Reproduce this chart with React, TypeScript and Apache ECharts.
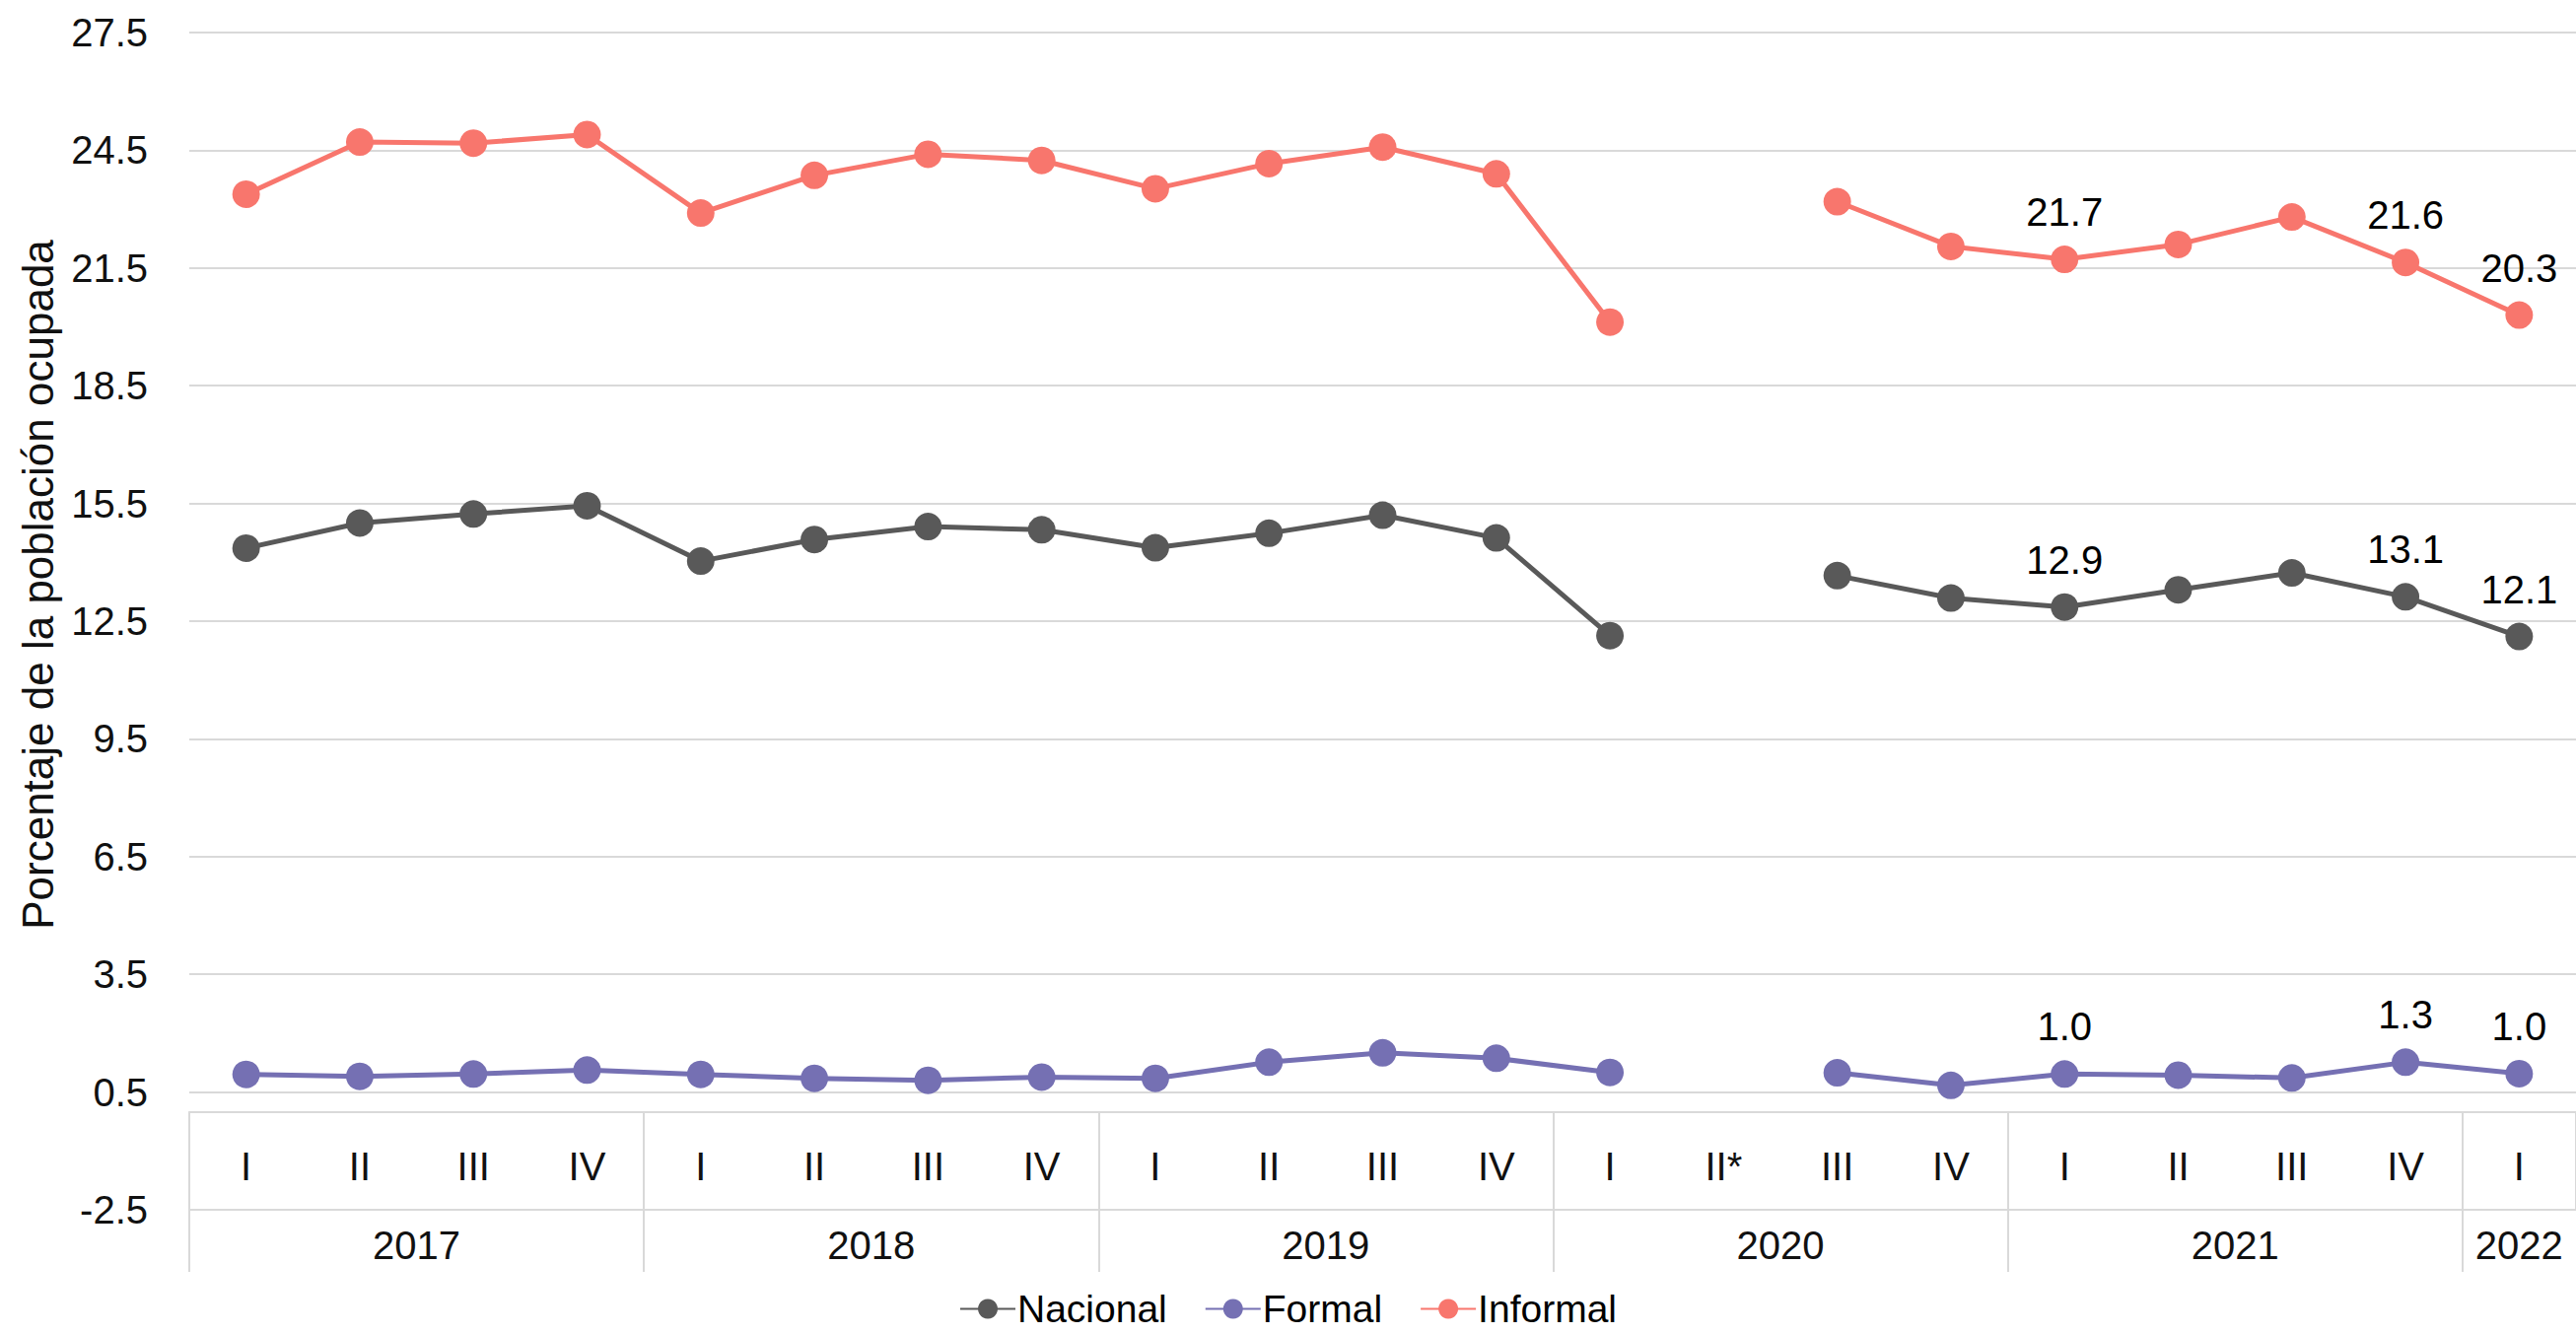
import React, { useEffect, useRef } from "react";
import * as echarts from "echarts";

const quarters = ["I", "II", "III", "IV", "I", "II", "III", "IV", "I", "II", "III", "IV", "I", "II*", "III", "IV", "I", "II", "III", "IV", "I"];
const years = ["2017", "2018", "2019", "2020", "2021", "2022"];
const yearCenters = [2, 6, 10, 14, 18, 20.5];
const yearBounds = [0, 4, 8, 12, 16, 20];
const yTicks = [-2.5, 0.5, 3.5, 6.5, 9.5, 12.5, 15.5, 18.5, 21.5, 24.5, 27.5];

const nacional = [14.36, 15.0, 15.23, 15.44, 14.03, 14.58, 14.91, 14.83, 14.37, 14.74, 15.2, 14.62, 12.13, null, 13.66, 13.09, 12.86, 13.3, 13.73, 13.12, 12.11];
const formal = [0.95, 0.9, 0.96, 1.06, 0.95, 0.85, 0.8, 0.88, 0.85, 1.26, 1.5, 1.36, 1.0, null, 0.99, 0.67, 0.96, 0.93, 0.86, 1.26, 0.97];
const informal = [23.38, 24.71, 24.68, 24.9, 22.9, 23.86, 24.4, 24.24, 23.52, 24.16, 24.58, 23.9, 20.12, null, 23.19, 22.05, 21.72, 22.1, 22.8, 21.64, 20.3];
const labeledIdx = [16, 19, 20];

const FONT = "'Liberation Sans', Arial, sans-serif";
const GRIDC = "#d9d9d9";

function buildData(vals: (number | null)[]) {
  return vals.map((v, i) =>
    labeledIdx.includes(i) && v != null ? { value: v, label: { show: true } } : v
  );
}

function makeSeries(name: string, vals: (number | null)[], color: string) {
  return {
    name,
    type: "line",
    xAxisIndex: 0,
    yAxisIndex: 0,
    data: buildData(vals),
    symbol: "circle",
    symbolSize: 28,
    showSymbol: true,
    connectNulls: false,
    itemStyle: { color },
    lineStyle: { color, width: 5 },
    label: {
      show: false,
      position: "top",
      distance: 14,
      fontSize: 40,
      fontFamily: FONT,
      color: "#000",
      formatter: (p: any) => Number(p.value).toFixed(1),
    },
    emphasis: { disabled: true },
  };
}

export default function App() {
  const ref = useRef<HTMLDivElement>(null);
  useEffect(() => {
    if (!ref.current) return;
    const chart = echarts.init(ref.current, null, { renderer: "svg" });
    chart.setOption({
      animation: false,
      backgroundColor: "#fff",
      textStyle: { fontFamily: FONT },
      grid: { left: 192, right: 0, top: 33, bottom: 126, containLabel: false },
      legend: {
        data: ["Nacional", "Formal", "Informal"],
        left: "center",
        top: 1308,
        padding: 0,
        itemWidth: 56,
        itemHeight: 25,
        itemGap: 38,
        textStyle: {
          fontSize: 39,
          lineHeight: 36,
          color: "#000",
          fontFamily: FONT,
          padding: [0, 0, 0, -3],
        },
      },
      xAxis: [
        {
          type: "category",
          data: quarters,
          boundaryGap: true,
          position: "bottom",
          offset: -99.5,
          axisLine: { show: true, onZero: false, lineStyle: { color: GRIDC, width: 2 } },
          axisTick: {
            show: true,
            length: 100,
            interval: (i: number) => i % 4 === 0,
            lineStyle: { color: GRIDC, width: 2 },
          },
          axisLabel: { interval: 0, fontSize: 40, color: "#111", margin: 35, fontFamily: FONT },
          splitLine: { show: false },
        },
        {
          type: "value",
          min: 0,
          max: 21,
          position: "bottom",
          axisLine: { show: true, onZero: false, lineStyle: { color: GRIDC, width: 2 } },
          axisTick: {
            show: true,
            length: 63,
            customValues: yearBounds,
            lineStyle: { color: GRIDC, width: 2 },
          },
          axisLabel: {
            show: true,
            customValues: yearCenters,
            fontSize: 40,
            color: "#111",
            margin: 16,
            fontFamily: FONT,
            formatter: (v: number) => {
              const k = yearCenters.indexOf(v);
              return k >= 0 ? years[k] : "";
            },
          },
          splitLine: { show: false },
        },
      ],
      yAxis: {
        type: "value",
        min: -2.5,
        max: 27.5,
        axisLine: { show: false, onZero: false },
        axisTick: { show: false, customValues: yTicks },
        axisLabel: {
          customValues: yTicks,
          fontSize: 40,
          color: "#111",
          margin: 42,
          fontFamily: FONT,
          formatter: (v: number) => v.toFixed(1),
        },
        splitLine: { show: true, lineStyle: { color: GRIDC, width: 2 } },
      },
      graphic: [
        {
          type: "text",
          x: 38,
          y: 593,
          rotation: Math.PI / 2,
          style: {
            text: "Porcentaje de la población ocupada",
            fontSize: 44,
            fontFamily: FONT,
            fill: "#111",
            textAlign: "center",
            textVerticalAlign: "middle",
          },
        },
      ],
      series: [
        makeSeries("Nacional", nacional, "#595959"),
        makeSeries("Formal", formal, "#7570b3"),
        makeSeries("Informal", informal, "#f8766d"),
      ],
    });
    return () => chart.dispose();
  }, []);
  return (
    <div
      ref={ref}
      style={{ position: "absolute", left: 0, top: 0, width: 2613, height: 1353 }}
    />
  );
}
